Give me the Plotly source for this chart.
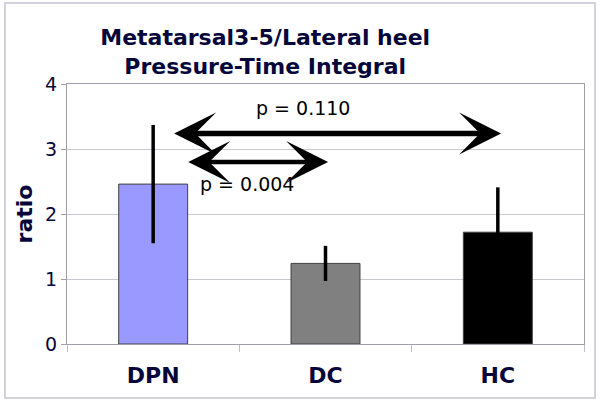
import plotly.graph_objects as go

categories = ["DPN", "DC", "HC"]
means = [2.46, 1.24, 1.72]
sd = [0.91, 0.27, 0.69]
bar_colors = ["#9999FF", "#808080", "#000000"]

p_labels = ["p = 0.004", "p = 0.110"]
arrow_y = [2.80, 3.24]
arrow_x_start = [0.195, 0.113]
arrow_x_end = [1.015, 2.019]
label_x = [0.543, 0.87]
label_y = [2.46, 3.63]
arrow_widths = [4.5, 5.5]

NAVY = "#06063a"
FONT = "DejaVu Sans"
HEAD = 7.0  # head scale in px units (arrowwidth * arrowsize)

fig = go.Figure()
fig.add_trace(go.Bar(
    x=categories, y=means,
    marker=dict(color=bar_colors, line=dict(color="#404040", width=1)),
    error_y=dict(type="data", array=sd, visible=True, color="black", thickness=3.5, width=0),
    width=0.4,
))

annotations = []
for i in range(len(p_labels)):
    annotations.append(dict(
        x=arrow_x_end[i], y=arrow_y[i], xref="x", yref="y",
        ax=arrow_x_start[i], ay=arrow_y[i], axref="x", ayref="y",
        text=" ", font=dict(size=1), showarrow=True,
        arrowside="end+start", arrowhead=3, startarrowhead=3,
        arrowwidth=arrow_widths[i], arrowsize=HEAD / arrow_widths[i],
        startarrowsize=HEAD / arrow_widths[i], arrowcolor="black",
    ))
    annotations.append(dict(
        x=label_x[i], y=label_y[i], xref="x", yref="y",
        text=p_labels[i], showarrow=False,
        font=dict(family=FONT, size=19, color="black"),
    ))

fig.update_layout(
    width=600, height=402,
    margin=dict(l=67, r=16, t=84, b=58),
    paper_bgcolor="white", plot_bgcolor="white",
    showlegend=False,
    title=dict(
        text="<b>Metatarsal3-5/Lateral heel<br>Pressure-Time Integral</b>",
        x=0.442, xanchor="center", y=0.887, yanchor="middle",
        font=dict(family=FONT, size=22, color=NAVY),
    ),
    annotations=annotations,
    shapes=[dict(type="rect", xref="paper", yref="paper",
                 x0=-0.12, x1=1.0213, y0=-0.2077, y1=1.3115,
                 line=dict(color="#c4c4d0", width=1.5), layer="below")],
)
fig.update_xaxes(
    range=[-0.5, 2.5], showline=True, linecolor="#a0a0a8", mirror=True,
    ticks="outside", tickson="boundaries", ticklen=7, tickcolor="#c0c0c8",
    tickfont=dict(family=FONT, size=22, color=NAVY),
    ticklabelstandoff=12, tickprefix="<b>", ticksuffix="</b>",
)
fig.update_yaxes(
    range=[0, 4], dtick=1, showline=True, linecolor="#a0a0a8", mirror=True,
    ticks="outside", ticklen=5, tickcolor="#a0a0a8",
    gridcolor="#c8c8d0", gridwidth=1, zeroline=False,
    tickfont=dict(family=FONT, size=19, color=NAVY),
    title=dict(text="<b>ratio</b>", font=dict(family=FONT, size=22, color=NAVY), standoff=6),
)

fig.write_html("out.html", config={"displayModeBar": False},
               post_script="document.body.style.margin='0px';document.body.style.padding='0px';")
